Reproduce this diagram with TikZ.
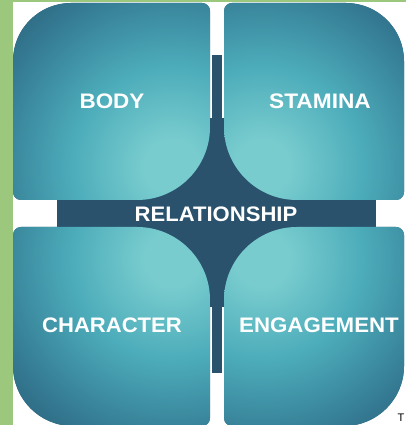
\documentclass[tikz,border=0pt]{standalone}
\usepackage{fontspec}
\usepackage{graphicx}
\setmainfont{Liberation Sans}
\definecolor{greenbar}{RGB}{156,200,126}
\definecolor{starblue}{RGB}{42,82,108}
\definecolor{cl}{RGB}{120,204,206}
\definecolor{cm}{RGB}{76,172,186}
\definecolor{cd}{RGB}{52,122,146}
\definecolor{co}{RGB}{44,98,124}
\pgfdeclareradialshading{glow}{\pgfpointorigin}{color(0bp)=(cl); color(3bp)=(cl); color(11bp)=(cm); color(20bp)=(cd); color(25bp)=(co); color(50bp)=(co)}
% quadrant path: x1,y1,x2,y2, radii BL,BR,TR,TL
\newcommand\qpath[8]{({#1+#5},#2) -- ({#3-#6},#2) arc[start angle=-90,end angle=0,radius=#6] -- (#3,{#4-#7}) arc[start angle=0,end angle=90,radius=#7] -- ({#1+#8},#4) arc[start angle=90,end angle=180,radius=#8] -- (#1,{#2+#5}) arc[start angle=180,end angle=270,radius=#5] -- cycle}
\newcommand\quadrant[9]{%
  \fill[co] \qpath{#1}{#2}{#3}{#4}{#5}{#6}{#7}{#8};
  \begin{scope}
    \clip \qpath{#1}{#2}{#3}{#4}{#5}{#6}{#7}{#8};
    \shade[shading=glow] (#9) circle (230);
  \end{scope}}
\tikzset{lbl/.style={text=white,inner sep=0pt,font=\fontsize{21}{21}\selectfont\bfseries}}
\begin{document}
\begin{tikzpicture}[x=1pt,y=1pt]
\useasboundingbox (0,0) rectangle (406,425);
\fill[white] (0,0) rectangle (406,425);
% green frame
\fill[greenbar] (0,0) rectangle (13,425);
\fill[greenbar] (0,423) rectangle (406,425);
% dark cross and star
\fill[starblue] (57,198) rectangle (376,225);
\fill[starblue] (211.5,52) rectangle (221.5,370);
\fill[starblue] (135,118) rectangle (300,307);
% quadrants
\quadrant{13}{225}{210}{422}{8}{73}{8}{58}{172,258}
\quadrant{224}{225}{404}{422}{73}{8}{58}{8}{262,258}
\quadrant{13}{-1}{210}{198}{60}{8}{73}{8}{172,166}
\quadrant{224}{-1}{404}{198}{8}{60}{8}{73}{262,166}
% labels
\node[lbl] (body) at (112,324) {\scalebox{1.07}[1]{BODY}};
\node[lbl] (stamina) at (320,324) {\scalebox{1.08}[1]{STAMINA}};
\node[lbl] (rel) at (216,210.5) {\scalebox{1.05}[1]{RELATIONSHIP}};
\node[lbl] (char) at (112,99.5) {\scalebox{1.05}[1]{CHARACTER}};
\node[lbl] (eng) at (319,99.5) {\scalebox{1.06}[1]{ENGAGEMENT}};
\node[anchor=base west,inner sep=0pt,font=\fontsize{11}{11}\selectfont] (t) at (397.5,4) {T};
\end{tikzpicture}
\end{document}
